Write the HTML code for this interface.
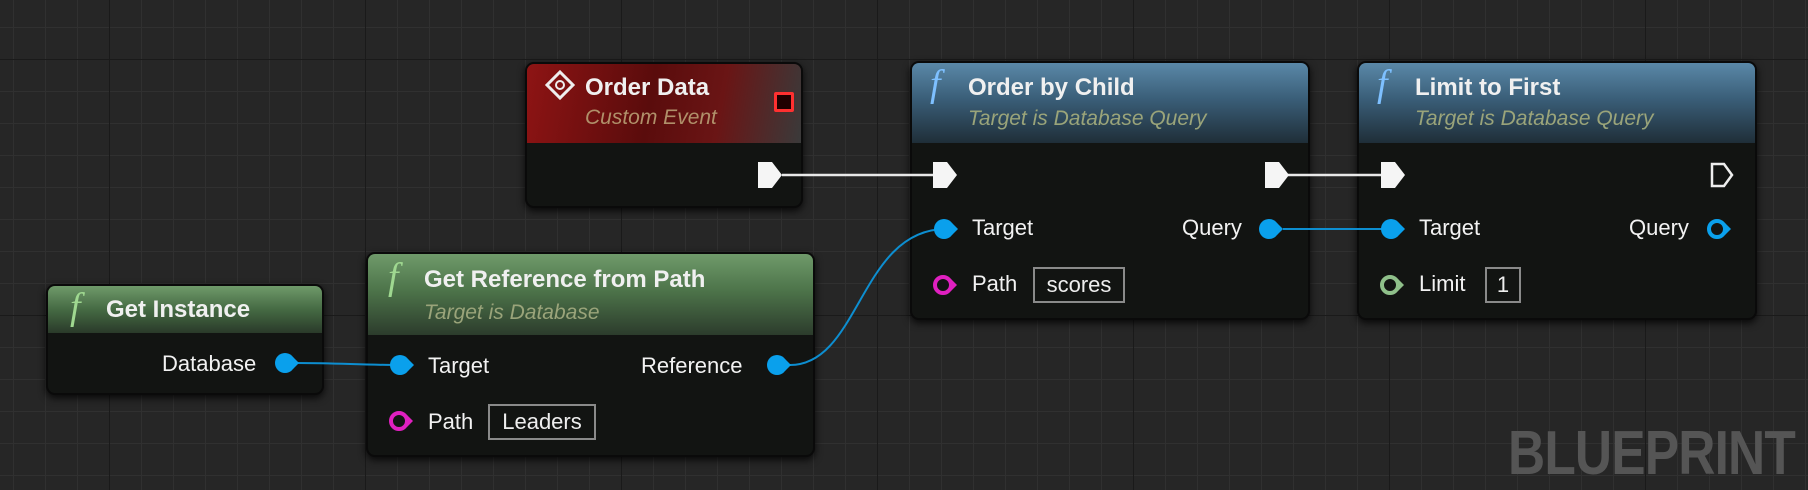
<!DOCTYPE html>
<html><head><meta charset="utf-8"><style>
*{margin:0;padding:0;box-sizing:border-box}
body{width:1808px;height:490px;overflow:hidden;background:#262626;font-family:"Liberation Sans",sans-serif;position:relative}
.node{position:absolute;background:#121412;border-radius:9px;box-shadow:0 3px 8px rgba(0,0,0,.8);border:2px solid #0a0a0a;overflow:hidden}
.hdr{position:absolute;left:0;right:0;top:0}
.t{position:absolute;color:#f0f0f0;font-weight:bold;font-size:24px;white-space:nowrap}
.s{position:absolute;font-style:italic;font-size:21px;white-space:nowrap}
.l{position:absolute;color:#f2f2f2;font-size:22px;white-space:nowrap}
.f{position:absolute;font-family:"Liberation Serif",serif;font-style:italic;font-size:38px}
.box{position:absolute;border:2px solid #8a8a8a;color:#eee;font-size:22px;text-align:center;line-height:31px}
</style></head><body>
<svg width="1808" height="490" style="position:absolute;left:0;top:0">
<defs>
<pattern id="g" x="13" y="27" width="32" height="32" patternUnits="userSpaceOnUse"><path d="M0 0H32M0 0V32" stroke="#303030" stroke-width="2" fill="none"/></pattern>
<pattern id="G" x="109" y="59" width="256" height="256" patternUnits="userSpaceOnUse"><path d="M0 0H256M0 0V256" stroke="#1a1a1a" stroke-width="2" fill="none"/></pattern>
</defs>
<rect width="1808" height="490" fill="url(#g)"/>
<rect width="1808" height="490" fill="url(#G)"/>
</svg>
<div style="position:absolute;left:1508px;top:418px;font-size:62px;font-weight:bold;color:#555;transform:scaleX(0.83);transform-origin:left top;letter-spacing:-1px">BLUEPRINT</div>

<!-- Order Data -->
<div class="node" style="left:525px;top:62px;width:278px;height:146px">
<div class="hdr" style="height:79px;background:linear-gradient(100deg,#8e1414 0%,#5a0c0c 45%,#6a1515 70%,#3a3a3a 100%)"></div>
<div class="t" style="left:58px;top:10px">Order Data</div>
<div class="s" style="left:58px;top:42px;color:#b0906a">Custom Event</div>
<div style="position:absolute;left:247px;top:28px;width:20px;height:20px;border:3px solid #ff3030;background:#200000;border-radius:2px"></div>
</div>
<svg width="30" height="30" style="position:absolute;left:545px;top:70px"><path d="M15 2L28 15L15 28L2 15Z" fill="none" stroke="#eee" stroke-width="3"/><circle cx="15" cy="15" r="4" fill="none" stroke="#eee" stroke-width="2"/></svg>

<!-- Get Instance -->
<div class="node" style="left:46px;top:284px;width:278px;height:111px">
<div class="hdr" style="height:47px;background:linear-gradient(180deg,#6f9a6a 0%,#456a43 50%,#2a3a2a 100%)"></div>
<div class="f" style="left:22px;top:-1px;color:#9fd890">f</div>
<div class="t" style="left:58px;top:10px">Get Instance</div>
<div class="l" style="left:114px;top:65px">Database</div>
</div>

<!-- Get Reference -->
<div class="node" style="left:366px;top:252px;width:449px;height:205px">
<div class="hdr" style="height:81px;background:linear-gradient(180deg,#6f9a6a 0%,#4d744a 45%,#2c3c2c 100%)"></div>
<div class="f" style="left:20px;top:1px;color:#9fd890">f</div>
<div class="t" style="left:56px;top:12px">Get Reference from Path</div>
<div class="s" style="left:56px;top:47px;color:#9aa47a">Target is Database</div>
<div class="l" style="left:60px;top:99px">Target</div>
<div class="l" style="left:273px;top:99px">Reference</div>
<div class="l" style="left:60px;top:155px">Path</div>
<div class="box" style="left:120px;top:150px;width:108px;height:36px">Leaders</div>
</div>

<!-- Order by Child -->
<div class="node" style="left:910px;top:61px;width:400px;height:259px">
<div class="hdr" style="height:80px;background:linear-gradient(180deg,#5a88a8 0%,#3a5e78 45%,#1f2e38 100%)"></div>
<div class="f" style="left:18px;top:-1px;color:#7ec0ff">f</div>
<div class="t" style="left:56px;top:11px">Order by Child</div>
<div class="s" style="left:56px;top:44px;color:#9aa47a">Target is Database Query</div>
<div class="l" style="left:60px;top:152px">Target</div>
<div class="l" style="left:270px;top:152px">Query</div>
<div class="l" style="left:60px;top:208px">Path</div>
<div class="box" style="left:121px;top:204px;width:92px;height:36px">scores</div>
</div>

<!-- Limit to First -->
<div class="node" style="left:1357px;top:61px;width:400px;height:259px">
<div class="hdr" style="height:80px;background:linear-gradient(180deg,#5a88a8 0%,#3a5e78 45%,#1f2e38 100%)"></div>
<div class="f" style="left:18px;top:-1px;color:#7ec0ff">f</div>
<div class="t" style="left:56px;top:11px">Limit to First</div>
<div class="s" style="left:56px;top:44px;color:#9aa47a">Target is Database Query</div>
<div class="l" style="left:60px;top:152px">Target</div>
<div class="l" style="left:270px;top:152px">Query</div>
<div class="l" style="left:60px;top:208px">Limit</div>
<div class="box" style="left:126px;top:204px;width:36px;height:36px">1</div>
</div>

<svg width="1808" height="490" style="position:absolute;left:0;top:0">
<g stroke="#e8e8e8" stroke-width="2.5" fill="none">
<path d="M782 175H943"/><path d="M1288 175H1392"/>
</g>
<g stroke="#0d8ed0" stroke-width="2" fill="none">
<path d="M296 363C340 363 360 365 402 365"/>
<path d="M790 365C860 365 860 229 946 229"/>
<path d="M1283 229H1393"/>
</g>
<g fill="#f5f5f5">
<path d="M758 162H772L782 175L772 188H758Z"/>
<path d="M933 162H947L957 175L947 188H933Z"/>
<path d="M1265 162H1279L1289 175L1279 188H1265Z"/>
<path d="M1381 162H1395L1405 175L1395 188H1381Z"/>
</g>
<path d="M1712 164H1724L1732 175L1724 186H1712Z" fill="none" stroke="#eee" stroke-width="2.5"/>
<g fill="#0aa0ec">
<circle cx="285" cy="363" r="10"/><path d="M293 357L299 363L293 369Z"/>
<circle cx="400" cy="365" r="10"/><path d="M408 359L414 365L408 371Z"/>
<circle cx="777" cy="365" r="10"/><path d="M785 359L791 365L785 371Z"/>
<circle cx="944" cy="229" r="10"/><path d="M952 223L958 229L952 235Z"/>
<circle cx="1269" cy="229" r="10"/><path d="M1277 223L1283 229L1277 235Z"/>
<circle cx="1391" cy="229" r="10"/><path d="M1399 223L1405 229L1399 235Z"/>
<path d="M1725 223L1731 229L1725 235Z"/>
</g>
<circle cx="1717" cy="229" r="8" fill="none" stroke="#0aa0ec" stroke-width="4"/>
<circle cx="399" cy="421" r="8" fill="none" stroke="#e020c0" stroke-width="4"/><path d="M407 415L413 421L407 427Z" fill="#e020c0"/>
<circle cx="943" cy="285" r="8" fill="none" stroke="#e020c0" stroke-width="4"/><path d="M951 279L957 285L951 291Z" fill="#e020c0"/>
<circle cx="1390" cy="285" r="8" fill="none" stroke="#8fc08a" stroke-width="4"/><path d="M1398 279L1404 285L1398 291Z" fill="#8fc08a"/>
</svg>
</body></html>
